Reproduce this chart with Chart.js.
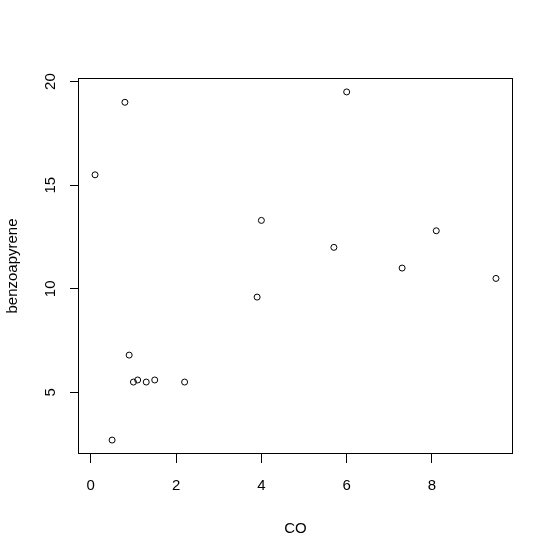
<!DOCTYPE html>
<html>
<head>
<meta charset="utf-8">
<script src="https://cdn.jsdelivr.net/npm/chart.js@4"></script>
<style>
  html, body { margin: 0; padding: 0; background: #fff; }
  #wrap { width: 553px; height: 552px; }
</style>
</head>
<body>
<div id="wrap"><canvas id="grafico" width="553" height="552"></canvas></div>
<script>
// valores
const coValues    = [0.1, 0.8, 6.0, 4.0, 5.7, 8.1, 7.3, 9.5, 3.9, 0.9, 1.0, 1.1, 1.3, 1.5, 2.2, 0.5];
const benzoValues = [15.5, 19.0, 19.5, 13.3, 12.0, 12.8, 11.0, 10.5, 9.6, 6.8, 5.5, 5.6, 5.5, 5.6, 5.5, 2.7];
const xTicks = [0, 2, 4, 6, 8];
const yTicks = [5, 10, 15, 20];

// faixa estendida em 4% como no R
const ext = (arr) => {
  const lo = Math.min(...arr), hi = Math.max(...arr);
  const d = (hi - lo) * 0.04;
  return [lo - d, hi + d];
};
const [xMin, xMax] = ext(coValues);
const [yMin, yMax] = ext(benzoValues);

const fonte = { family: '"Liberation Sans", Arial, sans-serif', size: 15 };

const moldura = {
  id: 'moldura',
  afterDatasetsDraw(chart) {
    const { ctx, chartArea: a } = chart;
    ctx.save();
    ctx.strokeStyle = '#000';
    ctx.lineWidth = 1;
    ctx.strokeRect(a.left - 0.5, a.top + 0.5, a.right - a.left + 1, a.bottom - a.top - 1);
    ctx.restore();
  }
};

new Chart(document.getElementById('grafico').getContext('2d'), {
  type: 'scatter',
  data: {
    datasets: [{
      data: coValues.map((x, i) => ({ x, y: benzoValues[i] })),
      pointStyle: 'circle',
      pointRadius: 3,
      pointBorderWidth: 1,
      pointBorderColor: '#000',
      pointBackgroundColor: 'rgba(0,0,0,0)'
    }]
  },
  options: {
    responsive: false,
    animation: false,
    layout: { padding: { top: 78, right: 41, left: 0, bottom: 0 } },
    plugins: {
      legend: { display: false },
      tooltip: { enabled: false }
    },
    scales: {
      x: {
        type: 'linear',
        min: xMin,
        max: xMax,
        afterFit(s) { s.height = 98; },
        afterBuildTicks(s) { s.ticks = xTicks.map(v => ({ value: v })); },
        border: { display: false },
        grid: { drawOnChartArea: false, drawTicks: true, tickLength: 9, color: '#000', lineWidth: 1 },
        ticks: { color: '#000', font: fonte, padding: 14, maxRotation: 0 },
        title: { display: true, text: 'CO', color: '#000', font: fonte, padding: { top: 0, bottom: 14 } }
      },
      y: {
        type: 'linear',
        min: yMin,
        max: yMax,
        afterFit(s) { s.width = 79; },
        afterBuildTicks(s) { s.ticks = yTicks.map(v => ({ value: v })); },
        border: { display: false },
        grid: { drawOnChartArea: false, drawTicks: true, tickLength: 9, color: '#000', lineWidth: 1 },
        ticks: { color: '#000', font: fonte, padding: 11, minRotation: 90, maxRotation: 90, crossAlign: 'center' },
        title: { display: true, text: 'benzoapyrene', color: '#000', font: fonte, padding: { top: 4, bottom: 0 } }
      }
    }
  },
  plugins: [moldura]
});
</script>
</body>
</html>
